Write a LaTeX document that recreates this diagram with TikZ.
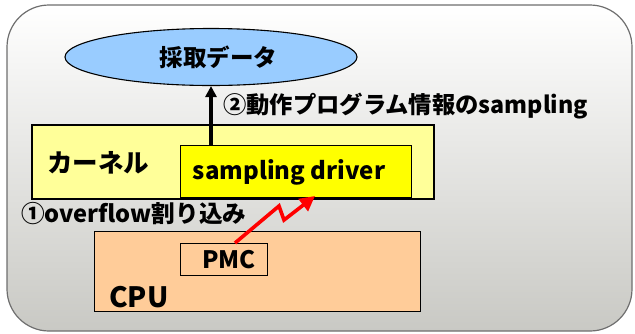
\documentclass[tikz,border=0pt]{standalone}
\usepackage{fontspec}
\setmainfont{Noto Sans CJK JP Black}
\usetikzlibrary{shapes.geometric,arrows.meta}
\definecolor{bgbot}{HTML}{C9C9C4}
\definecolor{bord}{HTML}{6E6E6E}
\definecolor{dataC}{HTML}{99CCFF}
\definecolor{kernC}{HTML}{FFFF99}
\definecolor{drvC}{HTML}{FFFF00}
\definecolor{cpuC}{HTML}{FFCC99}
\definecolor{redC}{HTML}{FF0000}
\tikzset{
  box/.style={draw=black, line width=1.2pt},
  lbl/.style={inner sep=0pt, anchor=west},
}
\begin{document}
\begin{tikzpicture}[x=1pt,y=-1pt]
\useasboundingbox (0,0) rectangle (635,333);
% background panel
\shade[top color=white, bottom color=bgbot, draw=bord, line width=1.2pt, rounded corners=42pt]
  (7,5) rectangle (632,331);
% collected data
\node[ellipse, draw=black, line width=1.1pt, fill=dataC, minimum width=292pt, minimum height=57pt, inner sep=0pt] (data) at (211,57) {};
\node[lbl, font=\fontsize{23.5}{23.5}\selectfont, anchor=center] (datat) at (218.5,57.5) {採取データ};
% kernel
\draw[box, fill=kernC] (32,125) rectangle (434,199);
\node[lbl, font=\fontsize{25.5}{25.5}\selectfont] (kernt) at (47,163) {カーネル};
% driver
\node[box, fill=drvC, minimum width=231pt, minimum height=52pt, anchor=north west, inner sep=0pt] (drv) at (180,145) {};
\node[lbl, font=\fontsize{24}{24}\selectfont, anchor=center] (drvt) at (289,172) {sampling driver};
% arrow to data
\draw[line width=3.2pt, -{Triangle[length=11pt,width=11pt]}] (drv.north -| data.south) -- (data.south);
\node[lbl, font=\fontsize{23.3}{23.3}\selectfont] (l2) at (223,106) {②動作プログラム情報のsampling};
% overflow label
\node[lbl, font=\fontsize{23.6}{23.6}\selectfont] (l1) at (21,214) {①overflow割り込み};
% CPU
\node[box, fill=cpuC, minimum width=326pt, minimum height=80pt, anchor=north west, inner sep=0pt] (cpu) at (94,231) {};
\node[box, fill=cpuC, minimum width=87pt, minimum height=32pt, anchor=north west, inner sep=0pt] (pmc) at (180,243) {};
\node[lbl, font=\fontsize{24}{24}\selectfont, anchor=center] (pmct) at (229,260) {PMC};
\node[lbl, font=\fontsize{28}{28}\selectfont] (cput) at (109,297) {CPU};
% red interrupt arrow
\coordinate (z1) at (279,206);
\coordinate (z2) at (284,220);
\coordinate (tip) at (315,196);
\draw[redC, line width=3.6pt, line join=miter, -{Triangle[length=15pt,width=15pt]}]
  (pmc.north -| 235,0) -- (z1) -- (z2) -- (tip);
\end{tikzpicture}
\end{document}
